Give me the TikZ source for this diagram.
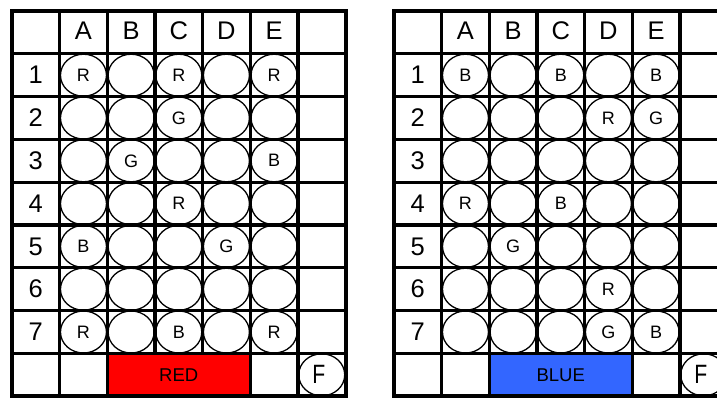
\documentclass[tikz,border=0pt]{standalone}
\usepackage{fontspec}
\usepackage{graphicx}
\setmainfont{Liberation Sans}
\usetikzlibrary{shapes.geometric}
\definecolor{barred}{RGB}{255,0,0}
\definecolor{barblue}{RGB}{51,102,255}
\def\cw{47.65}
\def\rh{42.8}
\newcommand\drawplate[5]{%
  \begin{scope}[shift={(#1,11)}]
    % bar (merged cells B-D of the last row)
    \node[barbox, fill=#3] (#2-bar) at ({3.5*\cw},{8.5*\rh}) {#4};
    % wells
    \foreach \c in {1,...,5}{
      \foreach \r in {1,...,7}{
        \node[well] (#2-\c-\r) at ({(\c+0.5)*\cw},{(\r+0.5)*\rh}) {};
      }
    }
    \foreach \c/\r/\t in {#5}{
      \node[welltxt] (#2-t\c-\r) at (#2-\c-\r.center) {\t};
    }
    % F well
    \node[well] (#2-F) at ({6.5*\cw},{8.5*\rh}) {};
    \node[ftxt] (#2-Ft) at ([xshift=-3pt]#2-F.center) {\scalebox{0.8}[1]{F}};
    % headers
    \foreach \c/\t in {1/A,2/B,3/C,4/D,5/E}{
      \node[headtxt] (#2-h\c) at ({(\c+0.5)*\cw},{0.5*\rh-1.2}) {\t};
    }
    \foreach \r in {1,...,7}{
      \node[headtxt] (#2-r\r) at ({0.5*\cw},{(\r+0.5)*\rh}) {\r};
    }
    % grid lines
    \foreach \j in {1,...,8}{
      \draw[gridline] (0,{\j*\rh}) -- ({7*\cw},{\j*\rh});
    }
    \foreach \i in {1,2,5,6}{
      \draw[gridline] ({\i*\cw},0) -- ({\i*\cw},{9*\rh});
    }
    \foreach \i in {3,4}{
      \draw[gridline] ({\i*\cw},0) -- ({\i*\cw},{8*\rh});
    }
    \draw[outerline] (0,0) rectangle ({7*\cw},{9*\rh});
  \end{scope}%
}
\begin{document}
\begin{tikzpicture}[x=1pt,y=-1pt,
  gridline/.style={line width=3.3pt},
  outerline/.style={line width=4pt},
  well/.style={ellipse, draw, line width=1.3pt, inner sep=0pt,
    minimum width=46pt, minimum height=42pt},
  welltxt/.style={inner sep=0pt, font=\fontsize{18}{18}\selectfont},
  headtxt/.style={inner sep=0pt, font=\fontsize{25.5}{25.5}\selectfont},
  ftxt/.style={inner sep=0pt, font=\fontsize{26.5}{26.5}\selectfont},
  barbox/.style={draw=none, inner sep=0pt, minimum width=142.95pt,
    minimum height=42.8pt, font=\fontsize{18.5}{18.5}\selectfont}]
\useasboundingbox (0,0) rectangle (717,397);
\clip (0,0) rectangle (717,397);
\fill[white] (0,0) rectangle (717,397);
\drawplate{12}{L}{barred}{RED}{1/1/R,3/1/R,5/1/R,3/2/G,2/3/G,5/3/B,3/4/R,1/5/B,4/5/G,1/7/R,3/7/B,5/7/R}
\drawplate{394}{P}{barblue}{BLUE}{1/1/B,3/1/B,5/1/B,4/2/R,5/2/G,1/4/R,3/4/B,2/5/G,4/6/R,4/7/G,5/7/B}
\end{tikzpicture}
\end{document}
